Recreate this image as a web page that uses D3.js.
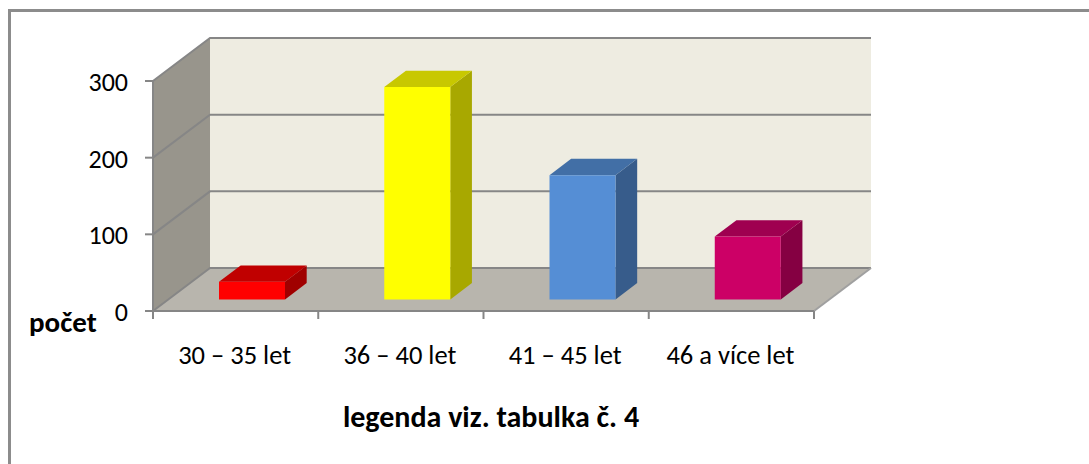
<!DOCTYPE html>
<html>
<head>
<meta charset="utf-8">
<script src="https://cdn.jsdelivr.net/npm/d3@7"></script>
<style>
  html, body { margin: 0; padding: 0; background: #fff; }
  svg { display: block; }
  text { font-family: Carlito, Calibri, 'Open Sans', 'Noto Sans', sans-serif; fill: #000; }
</style>
</head>
<body>
<div id="chart"></div>
<script>
// data
const categories = ['30 – 35 let', '36 – 40 let', '41 – 45 let', '46 a více let'];
const counts = [23, 277, 162, 82];
const yTicks = [0, 100, 200, 300];
const faceColors = ['#ff0000', '#ffff00', '#558ed5', '#cc0066'];
const topColors = ['#c00000', '#c8c800', '#426fa6', '#9f0050'];
const sideColors = ['#a00000', '#a8a800', '#375c8b', '#850042'];

const width = 1089, height = 464;

const svg = d3.select('#chart').append('svg')
    .attr('width', width)
    .attr('height', height);

// outer frame
svg.append('rect')
    .attr('x', 9.5).attr('y', 10.5)
    .attr('width', 1100).attr('height', 470)
    .attr('fill', '#fff')
    .attr('stroke', '#8c8c8c')
    .attr('stroke-width', 3);

const x = d3.scaleBand().domain(categories).range([153, 814]);
const y = d3.scaleLinear().domain([0, 300]).range([311, 81]);

// fake 3d: z = 0 is the front of the box, z = 1 the back wall
const depthX = 57, depthY = 43;
const px = (xv, z) => xv + z * depthX;
const py = (v, z) => y(v) - z * depthY;
const pt = (xv, v, z) => [px(xv, z), py(v, z)];
const poly = pts => 'M' + pts.map(p => p.join(',')).join('L') + 'Z';

const x0 = x.range()[0], x1 = x.range()[1];
const gridColor = '#868686';

// back wall
svg.append('path')
    .attr('d', poly([pt(x0, 0, 1), pt(x1, 0, 1), pt(x1, 300, 1), pt(x0, 300, 1)]))
    .attr('fill', '#eeece1');

// left wall
svg.append('path')
    .attr('d', poly([pt(x0, 0, 0), pt(x0, 0, 1), pt(x0, 300, 1), pt(x0, 300, 0)]))
    .attr('fill', '#98958c');

// floor
svg.append('path')
    .attr('d', poly([pt(x0, 0, 0), pt(x1, 0, 0), pt(x1, 0, 1), pt(x0, 0, 1)]))
    .attr('fill', '#b8b5ad');

// gridlines running along left wall then back wall
svg.selectAll('.grid')
    .data(yTicks)
    .enter()
    .append('path')
    .attr('class', 'grid')
    .attr('d', d => d3.line()([pt(x0, d, 0), pt(x0, d, 1), pt(x1, d, 1)]))
    .attr('fill', 'none')
    .attr('stroke', gridColor)
    .attr('stroke-width', 2);

// floor edge on the right side
svg.append('path')
    .attr('d', d3.line()([pt(x1, 0, 0), pt(x1, 0, 1)]))
    .attr('stroke', '#a0a0a0')
    .attr('stroke-width', 2);

// axes lines
svg.append('path')
    .attr('d', d3.line()([pt(x0, 300, 0), pt(x0, 0, 0), pt(x1, 0, 0)]))
    .attr('fill', 'none')
    .attr('stroke', gridColor)
    .attr('stroke-width', 2);

// y ticks + labels
const yAxis = svg.append('g').selectAll('g')
    .data(yTicks)
    .enter()
    .append('g');

yAxis.append('line')
    .attr('x1', x0 - 8).attr('x2', x0)
    .attr('y1', d => y(d)).attr('y2', d => y(d))
    .attr('stroke', gridColor)
    .attr('stroke-width', 2);

yAxis.append('text')
    .attr('x', x0 - 25)
    .attr('y', d => y(d) + 10)
    .attr('text-anchor', 'end')
    .style('font-size', '26px')
    .text(d => d);

// x ticks
svg.append('g').selectAll('line')
    .data(d3.range(categories.length + 1))
    .enter()
    .append('line')
    .attr('x1', i => x0 + i * x.step()).attr('x2', i => x0 + i * x.step())
    .attr('y1', y(0)).attr('y2', y(0) + 8)
    .attr('stroke', gridColor)
    .attr('stroke-width', 2);

svg.append('g').selectAll('text')
    .data(categories)
    .enter()
    .append('text')
    .attr('x', d => x(d) + x.step() / 2 - 1)
    .attr('y', 364)
    .attr('text-anchor', 'middle')
    .style('font-size', '26.5px')
    .text(d => d);

// bars
const barW = 66, zFront = 0.27, zBack = 0.65;
const bars = svg.append('g').selectAll('g')
    .data(categories)
    .enter()
    .append('g')
    .attr('class', 'bar');

const left = d => x(d) + x.step() / 2 - barW / 2 + 1;
const val = i => counts[i];

bars.append('path')   // side
    .attr('d', (d, i) => poly([
        pt(left(d) + barW, 0, zFront), pt(left(d) + barW, 0, zBack),
        pt(left(d) + barW, val(i), zBack), pt(left(d) + barW, val(i), zFront)]))
    .attr('fill', (d, i) => sideColors[i]);

bars.append('path')   // top
    .attr('d', (d, i) => poly([
        pt(left(d), val(i), zFront), pt(left(d) + barW, val(i), zFront),
        pt(left(d) + barW, val(i), zBack), pt(left(d), val(i), zBack)]))
    .attr('fill', (d, i) => topColors[i]);

bars.append('path')   // front
    .attr('d', (d, i) => poly([
        pt(left(d), 0, zFront), pt(left(d) + barW, 0, zFront),
        pt(left(d) + barW, val(i), zFront), pt(left(d), val(i), zFront)]))
    .attr('fill', (d, i) => faceColors[i]);

// axis titles
svg.append('text')
    .attr('x', 29).attr('y', 332)
    .style('font-size', '29px')
    .style('font-weight', 'bold')
    .text('počet');

svg.append('text')
    .attr('x', 491).attr('y', 427)
    .attr('text-anchor', 'middle')
    .style('font-size', '30px')
    .style('font-weight', 'bold')
    .text('legenda viz. tabulka č. 4');
</script>
</body>
</html>
